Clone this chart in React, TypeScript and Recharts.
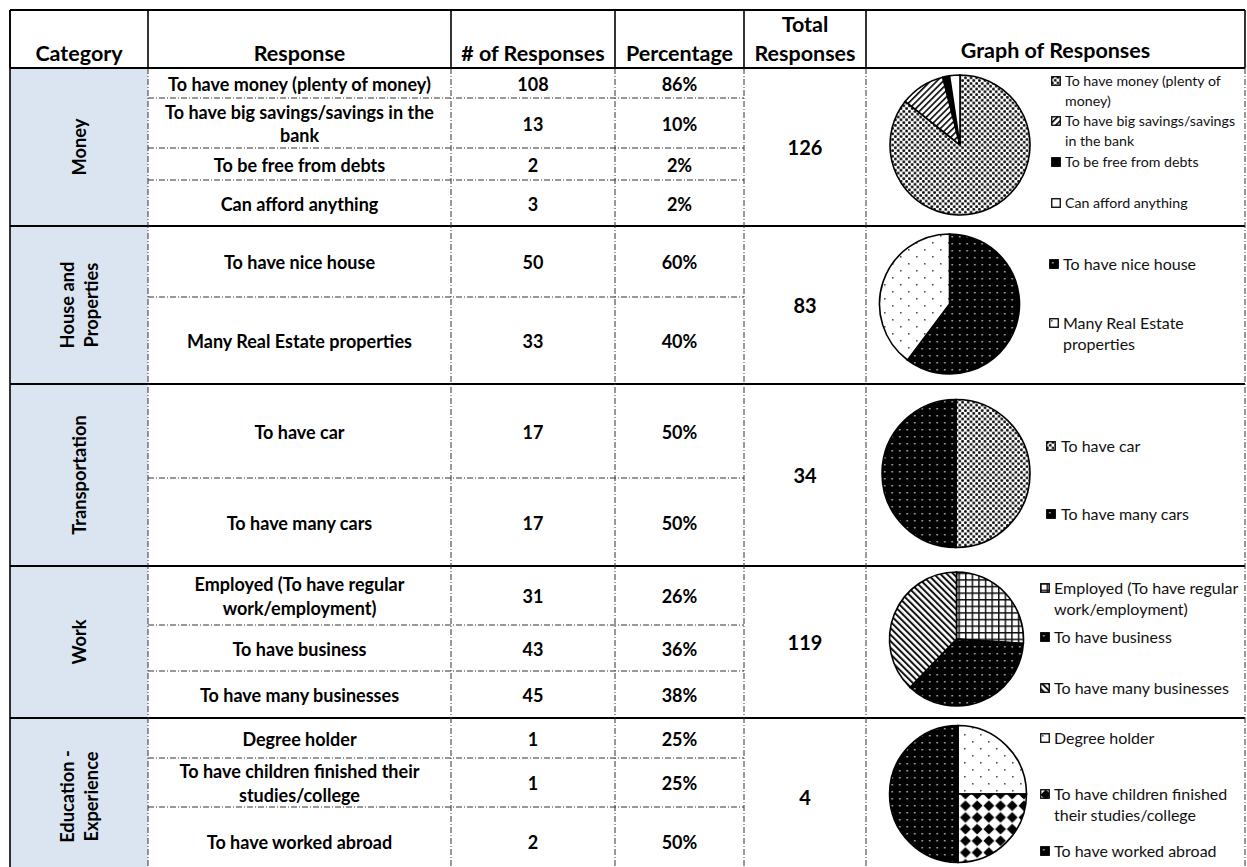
import React from 'react';
import { PieChart, Pie, Cell, Legend } from 'recharts';

// ---- table content ----
const headers = ['Category', 'Response', '# of Responses', 'Percentage', 'Total\nResponses', 'Graph of Responses'];

const categories = ['Money', 'House and\nProperties', 'Transportation', 'Work', 'Education -\nExperience'];

const moneyResponses = ['To have money (plenty of money)', 'To have big savings/savings in the\nbank', 'To be free from debts', 'Can afford anything'];
const moneyCounts = [108, 13, 2, 3];
const moneyLegend = ['To have money (plenty of\nmoney)', 'To have big savings/savings\nin the bank', 'To be free from debts', 'Can afford anything'];

const houseResponses = ['To have nice house', 'Many Real Estate properties'];
const houseCounts = [50, 33];
const houseLegend = ['To have nice house', 'Many Real Estate\nproperties'];

const transportResponses = ['To have car', 'To have many cars'];
const transportCounts = [17, 17];
const transportLegend = ['To have car', 'To have many cars'];

const workResponses = ['Employed (To have regular\nwork/employment)', 'To have business', 'To have many businesses'];
const workCounts = [31, 43, 45];
const workLegend = ['Employed (To have regular\nwork/employment)', 'To have business', 'To have many businesses'];

const educationResponses = ['Degree holder', 'To have children finished their\nstudies/college', 'To have worked abroad'];
const educationCounts = [1, 1, 2];
const educationLegend = ['Degree holder', 'To have children finished\ntheir studies/college', 'To have worked abroad'];

// ---- layout ----
const FONT = 'Lato, "Noto Sans", "DejaVu Sans", sans-serif';
const COLS = [10, 148, 451, 615, 744, 866, 1245];
const TOP = 10;
const HEAD_BOTTOM = 68;
const BOTTOM = 875;
const BLUE = '#dbe5f1';
const DASHDOT = '6 2 1 2';
const BODY_SIZE = 18;
const HEAD_SIZE = 21.5;

type GroupLayout = {
  rows: number[];
  patterns: string[];
  pie: { cx: number; cy: number; r: number };
  legend: { left: number; textGap: number; tops: number[]; size: number; lh: number };
};

const layouts: GroupLayout[] = [
  {
    rows: [68, 98, 148, 180, 226],
    patterns: ['pDense', 'pHatchUp', 'pSolid', 'pBlank'],
    pie: { cx: 94, cy: 77, r: 70 },
    legend: { left: 185, textGap: 14, tops: [12.5, 52.5, 93.5, 134.5], size: 14.2, lh: 20 },
  },
  {
    rows: [226, 297, 384],
    patterns: ['pDarkDots', 'pLightDots'],
    pie: { cx: 83.5, cy: 78, r: 70 },
    legend: { left: 183, textGap: 14, tops: [37.5, 96.5], size: 16, lh: 21 },
  },
  {
    rows: [384, 478, 566],
    patterns: ['pDense', 'pDarkDots'],
    pie: { cx: 90, cy: 89.5, r: 74 },
    legend: { left: 180, textGap: 15, tops: [61.5, 129.5], size: 16, lh: 21 },
  },
  {
    rows: [566, 625, 671, 718],
    patterns: ['pGrid', 'pDarkDots', 'pHatchDown'],
    pie: { cx: 90.5, cy: 73, r: 67 },
    legend: { left: 174, textGap: 14, tops: [21.5, 70.5, 121.5], size: 16, lh: 21 },
  },
  {
    rows: [718, 758, 807, BOTTOM],
    patterns: ['pLightDots', 'pDiamonds', 'pDarkDots'],
    pie: { cx: 92, cy: 76, r: 68.5 },
    legend: { left: 174, textGap: 14, tops: [19.5, 75.5, 132.5], size: 16, lh: 21 },
  },
];

const groupData = [
  { responses: moneyResponses, counts: moneyCounts, legend: moneyLegend },
  { responses: houseResponses, counts: houseCounts, legend: houseLegend },
  { responses: transportResponses, counts: transportCounts, legend: transportLegend },
  { responses: workResponses, counts: workCounts, legend: workLegend },
  { responses: educationResponses, counts: educationCounts, legend: educationLegend },
];

const sum = (a: number[]) => a.reduce((s, v) => s + v, 0);
const pct = (v: number, total: number) => `${Math.round((v / total) * 100)}%`;

function Lines({ x, y, text, size, lh, weight = 700, rotate = false }: { x: number; y: number; text: string; size: number; lh: number; weight?: number; rotate?: boolean }) {
  const lines = text.split('\n');
  const start = -((lines.length - 1) * lh) / 2;
  return (
    <text
      x={x}
      y={y}
      fontFamily={FONT}
      fontSize={size}
      fontWeight={weight}
      fill="#000"
      textAnchor="middle"
      transform={rotate ? `rotate(-90 ${x} ${y})` : undefined}
    >
      {lines.map((l, i) => (
        <tspan key={i} x={x} y={y + start + i * lh} dominantBaseline="central">
          {l}
        </tspan>
      ))}
    </text>
  );
}

function PatternDefs() {
  return (
    <defs>
      <pattern id="pDense" patternUnits="userSpaceOnUse" width="5.6" height="5.6">
        <rect width="5.6" height="5.6" fill="#fff" />
        <circle cx="1.4" cy="1.4" r="1.45" fill="#111" />
        <circle cx="4.2" cy="4.2" r="1.45" fill="#111" />
      </pattern>
      <pattern id="pDarkDots" patternUnits="userSpaceOnUse" width="7.5" height="7">
        <rect width="7.5" height="7" fill="#000" />
        <rect x="3" y="3" width="1.5" height="1.5" fill="#bbb" />
      </pattern>
      <pattern id="pLightDots" patternUnits="userSpaceOnUse" width="16" height="14">
        <rect width="16" height="14" fill="#fff" />
        <rect x="2" y="2" width="1.6" height="1.6" fill="#555" />
        <rect x="10" y="9" width="1.6" height="1.6" fill="#555" />
      </pattern>
      <pattern id="pHatchUp" patternUnits="userSpaceOnUse" width="4.5" height="10" patternTransform="rotate(45)">
        <rect width="4.5" height="10" fill="#fff" />
        <rect width="1.7" height="10" fill="#111" />
      </pattern>
      <pattern id="pHatchDown" patternUnits="userSpaceOnUse" width="4.6" height="10" patternTransform="rotate(-45)">
        <rect width="4.6" height="10" fill="#fff" />
        <rect width="2" height="10" fill="#111" />
      </pattern>
      <pattern id="pGrid" patternUnits="userSpaceOnUse" width="6.6" height="6.6">
        <rect width="6.6" height="6.6" fill="#fff" />
        <rect width="6.6" height="1.5" fill="#111" />
        <rect width="1.5" height="6.6" fill="#111" />
      </pattern>
      <pattern id="pDiamonds" patternUnits="userSpaceOnUse" width="11.7" height="11.7">
        <rect width="11.7" height="11.7" fill="#fff" />
        <polygon points="5.85,0.4 11.3,5.85 5.85,11.3 0.4,5.85" fill="#000" />
      </pattern>
      <pattern id="pSolid" patternUnits="userSpaceOnUse" width="4" height="4">
        <rect width="4" height="4" fill="#000" />
      </pattern>
      <pattern id="pBlank" patternUnits="userSpaceOnUse" width="4" height="4">
        <rect width="4" height="4" fill="#fff" />
      </pattern>
    </defs>
  );
}

function TableFrame() {
  const hLines: React.ReactNode[] = [];
  const vLines: React.ReactNode[] = [];
  const texts: React.ReactNode[] = [];

  // header verticals (solid) and body verticals (dash-dot)
  COLS.forEach((x, i) => {
    vLines.push(<line key={`hv${i}`} x1={x} y1={TOP} x2={x} y2={HEAD_BOTTOM} stroke="#000" strokeWidth={1.6} />);
    if (i > 0) {
      vLines.push(
        <line key={`bv${i}`} x1={x} y1={HEAD_BOTTOM} x2={x} y2={BOTTOM} stroke="#333" strokeWidth={1} strokeDasharray={DASHDOT} />
      );
    }
  });
  vLines.push(<line key="left" x1={COLS[0]} y1={TOP} x2={COLS[0]} y2={BOTTOM} stroke="#000" strokeWidth={1.6} />);

  layouts.forEach((g, gi) => {
    const d = groupData[gi];
    const total = sum(d.counts);
    const rows = g.rows;
    for (let r = 1; r < rows.length - 1; r++) {
      hLines.push(
        <line key={`in${gi}-${r}`} x1={COLS[1]} y1={rows[r]} x2={COLS[4]} y2={rows[r]} stroke="#333" strokeWidth={1} strokeDasharray={DASHDOT} />
      );
    }
    if (gi < layouts.length - 1) {
      hLines.push(
        <line key={`gb${gi}`} x1={COLS[0]} y1={rows[rows.length - 1]} x2={COLS[6]} y2={rows[rows.length - 1]} stroke="#000" strokeWidth={2.2} />
      );
    }
    const top = rows[0];
    const bottom = rows[rows.length - 1];
    texts.push(
      <Lines key={`cat${gi}`} x={(COLS[0] + COLS[1]) / 2} y={(top + bottom) / 2} text={categories[gi]} size={18.3} lh={24} rotate />
    );
    d.responses.forEach((resp, ri) => {
      const cy = (rows[ri] + rows[ri + 1]) / 2 + 0.5;
      texts.push(<Lines key={`r${gi}-${ri}`} x={(COLS[1] + COLS[2]) / 2} y={cy} text={resp} size={BODY_SIZE} lh={23.5} />);
      texts.push(<Lines key={`n${gi}-${ri}`} x={(COLS[2] + COLS[3]) / 2} y={cy} text={String(d.counts[ri])} size={BODY_SIZE} lh={23} />);
      texts.push(<Lines key={`p${gi}-${ri}`} x={(COLS[3] + COLS[4]) / 2} y={cy} text={pct(d.counts[ri], total)} size={BODY_SIZE} lh={23} />);
    });
    texts.push(<Lines key={`t${gi}`} x={(COLS[4] + COLS[5]) / 2} y={(top + bottom) / 2} text={String(total)} size={20} lh={23} />);
  });

  const headY = [53, 53, 53, 53, 38.5, 49.5];
  headers.forEach((h, i) => {
    texts.push(<Lines key={`h${i}`} x={(COLS[i] + COLS[i + 1]) / 2} y={headY[i]} text={h} size={HEAD_SIZE} lh={29} />);
  });

  return (
    <svg width={1247} height={867} style={{ position: 'absolute', left: 0, top: 0 }}>
      <PatternDefs />
      <rect x={0} y={0} width={1247} height={867} fill="#fff" />
      <rect x={COLS[0]} y={HEAD_BOTTOM} width={COLS[1] - COLS[0]} height={BOTTOM - HEAD_BOTTOM} fill={BLUE} />
      {hLines}
      {vLines}
      <line x1={COLS[0]} y1={TOP} x2={COLS[6]} y2={TOP} stroke="#000" strokeWidth={2} />
      <line x1={COLS[0]} y1={HEAD_BOTTOM} x2={COLS[6]} y2={HEAD_BOTTOM} stroke="#000" strokeWidth={2.2} />
      {texts}
    </svg>
  );
}

function LegendBody({ labels, patterns, cfg }: { labels: string[]; patterns: string[]; cfg: GroupLayout['legend'] }) {
  return (
    <div style={{ position: 'relative', width: '100%', height: '100%' }}>
      {labels.map((label: string, i: number) => (
        <div key={i} style={{ position: 'absolute', left: 0, top: cfg.tops[i] - cfg.lh / 2, width: 210 }}>
          <svg width={10} height={10} style={{ position: 'absolute', left: 0, top: cfg.lh / 2 - 5 }}>
            <rect x={0.75} y={0.75} width={8.5} height={8.5} fill={`url(#${patterns[i]})`} stroke="#000" strokeWidth={1.3} />
          </svg>
          <div
            style={{
              position: 'absolute',
              left: cfg.textGap,
              top: 0,
              fontFamily: FONT,
              fontSize: cfg.size,
              lineHeight: `${cfg.lh}px`,
              color: '#111',
              whiteSpace: 'pre',
            }}
          >
            {label}
          </div>
        </div>
      ))}
    </div>
  );
}

function GroupPie({ gi }: { gi: number }) {
  const g = layouts[gi];
  const d = groupData[gi];
  const top = g.rows[0];
  const height = g.rows[g.rows.length - 1] - top;
  const width = COLS[6] - COLS[5];
  const data = d.legend.map((name, i) => ({ name, value: d.counts[i] }));
  return (
    <div style={{ position: 'absolute', left: COLS[5], top, width, height }}>
      <PieChart width={width} height={height} margin={{ top: 0, right: 0, bottom: 0, left: 0 }}>
        <Pie
          data={data}
          dataKey="value"
          nameKey="name"
          cx={g.pie.cx}
          cy={g.pie.cy}
          outerRadius={g.pie.r}
          startAngle={90}
          endAngle={-270}
          stroke="#000"
          strokeWidth={1.6}
          isAnimationActive={false}
          labelLine={false}
        >
          {data.map((_, i) => (
            <Cell key={i} fill={`url(#${g.patterns[i]})`} />
          ))}
        </Pie>
        <Legend
          layout="vertical"
          align="right"
          verticalAlign="top"
          wrapperStyle={{ left: g.legend.left, top: 0, right: 'auto', width: width - g.legend.left, height }}
          content={() => <LegendBody labels={d.legend} patterns={g.patterns} cfg={g.legend} />}
        />
      </PieChart>
    </div>
  );
}

export default function App() {
  return (
    <div style={{ position: 'absolute', left: 0, top: 0, width: 1247, height: 867, overflow: 'hidden', background: '#fff' }}>
      <TableFrame />
      {layouts.map((_, gi) => (
        <GroupPie key={gi} gi={gi} />
      ))}
    </div>
  );
}
